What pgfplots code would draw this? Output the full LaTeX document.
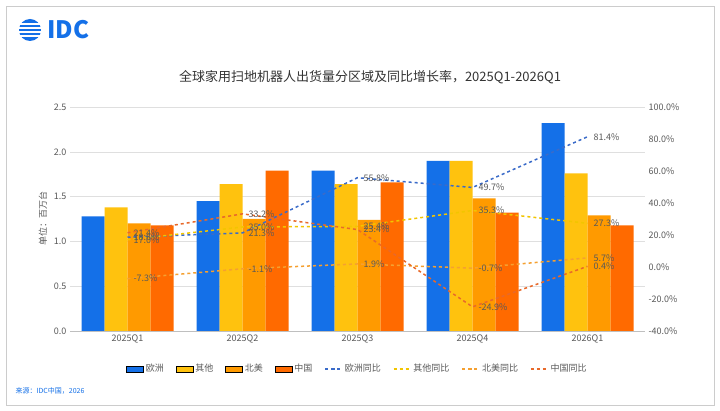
\documentclass[border=0pt]{standalone}
\usepackage{pgfplots}
\pgfplotsset{compat=1.18}
\usepackage{fontspec}
\setmainfont{Noto Sans CJK SC}
\definecolor{cEU}{HTML}{1470E8}
\definecolor{cOT}{HTML}{FFC20E}
\definecolor{cNA}{HTML}{FF9A00}
\definecolor{cCN}{HTML}{FF6A00}
\definecolor{lEU}{HTML}{3A6BC9}
\definecolor{lOT}{HTML}{F2C500}
\definecolor{lNA}{HTML}{F5A030}
\definecolor{lCN}{HTML}{E8692A}
\definecolor{tx}{HTML}{595959}
\begin{document}
\begin{tikzpicture}[x=1pt,y=1pt]
\path[use as bounding box] (0,0) rectangle (720,-411);
\fill[white] (0,0) rectangle (720,-411);
\draw[gray!40] (6,-6) rectangle (714,-405);
% logo
\fill[cEU] (30,-30) circle (11);
\foreach \yy in {-24,-28,-32,-36}{\draw[white,line width=1.2pt] (18,\yy) -- (42,\yy);}
\node[anchor=west,text=cEU,font=\bfseries\fontsize{24}{24}\selectfont] at (44,-30) {IDC};
\node[text=black!80,font=\fontsize{13}{13}\selectfont] at (370,-77) {全球家用扫地机器人出货量分区域及同比增长率，2025Q1-2026Q1};
\node[anchor=west,text=cEU,font=\fontsize{7}{7}\selectfont] at (12,-391) {来源：IDC中国，2026};
\begin{axis}[at={(70pt,-331pt)},anchor=south west,width=575pt,height=224pt,scale only axis,
 xmin=-0.5,xmax=4.5,ymin=0,ymax=2.5,ytick={0,0.5,...,2.5},
 xtick={0,1,2,3,4},xticklabels={2025Q1,2025Q2,2025Q3,2025Q4,2026Q1},
 ybar=0pt,bar width=23pt,
 axis y line*=left,axis x line*=bottom,
 axis line style={draw=none},x axis line style={draw=gray!50},
 major tick length=0pt,
 ymajorgrids,grid style={gray!25},
 tick label style={font=\fontsize{9}{9}\selectfont,text=tx},
 /pgf/number format/assume math mode=true,
 yticklabel style={/pgf/number format/.cd,fixed,fixed zerofill,precision=1},
 ylabel={单位：百万台},ylabel style={font=\fontsize{9}{9}\selectfont,text=tx},
]
\addplot[fill=cEU,draw=none] coordinates {(0,1.28)(1,1.45)(2,1.79)(3,1.90)(4,2.32)};
\addplot[fill=cOT,draw=none] coordinates {(0,1.38)(1,1.64)(2,1.64)(3,1.90)(4,1.76)};
\addplot[fill=cNA,draw=none] coordinates {(0,1.20)(1,1.25)(2,1.24)(3,1.48)(4,1.29)};
\addplot[fill=cCN,draw=none] coordinates {(0,1.18)(1,1.79)(2,1.66)(3,1.32)(4,1.18)};
\end{axis}
\begin{axis}[at={(70pt,-331pt)},anchor=south west,width=575pt,height=224pt,scale only axis,
 xmin=-0.5,xmax=4.5,ymin=-40,ymax=100,ytick={-40,-20,...,100},
 axis y line*=right,axis x line=none,axis line style={draw=none},
 major tick length=0pt,
 tick label style={font=\fontsize{9}{9}\selectfont,text=tx},
 /pgf/number format/assume math mode=true,
 yticklabel={\pgfmathprintnumber[fixed,fixed zerofill,precision=1]{\tick}\%},
 nodes near coords={\pgfmathprintnumber[fixed,fixed zerofill,precision=1]{\pgfplotspointmeta}\%},
 every node near coord/.style={font=\fontsize{9}{9}\selectfont,text=tx,anchor=west,xshift=2pt},
 legend columns=8,
 legend style={at={(0.5,-0.13)},anchor=north,draw=none,font=\fontsize{9}{9}\selectfont,text=tx,
  /tikz/every even column/.append style={column sep=10pt}},
]
\addlegendimage{area legend,fill=cEU,draw=none}\addlegendentry{欧洲}
\addlegendimage{area legend,fill=cOT,draw=none}\addlegendentry{其他}
\addlegendimage{area legend,fill=cNA,draw=none}\addlegendentry{北美}
\addlegendimage{area legend,fill=cCN,draw=none}\addlegendentry{中国}
\addplot[lEU,dashed,line width=1.5pt] coordinates {(0,18.6)(1,21.3)(2,55.8)(3,49.7)(4,81.4)};\addlegendentry{欧洲同比}
\addplot[lOT,dashed,line width=1.5pt] coordinates {(0,17.0)(1,25.0)(2,25.4)(3,35.3)(4,27.3)};\addlegendentry{其他同比}
\addplot[lNA,dashed,line width=1.5pt] coordinates {(0,-7.3)(1,-1.1)(2,1.9)(3,-0.7)(4,5.7)};\addlegendentry{北美同比}
\addplot[lCN,dashed,line width=1.5pt] coordinates {(0,21.4)(1,33.2)(2,23.4)(3,-24.9)(4,0.4)};\addlegendentry{中国同比}
\end{axis}
\end{tikzpicture}
\end{document}
